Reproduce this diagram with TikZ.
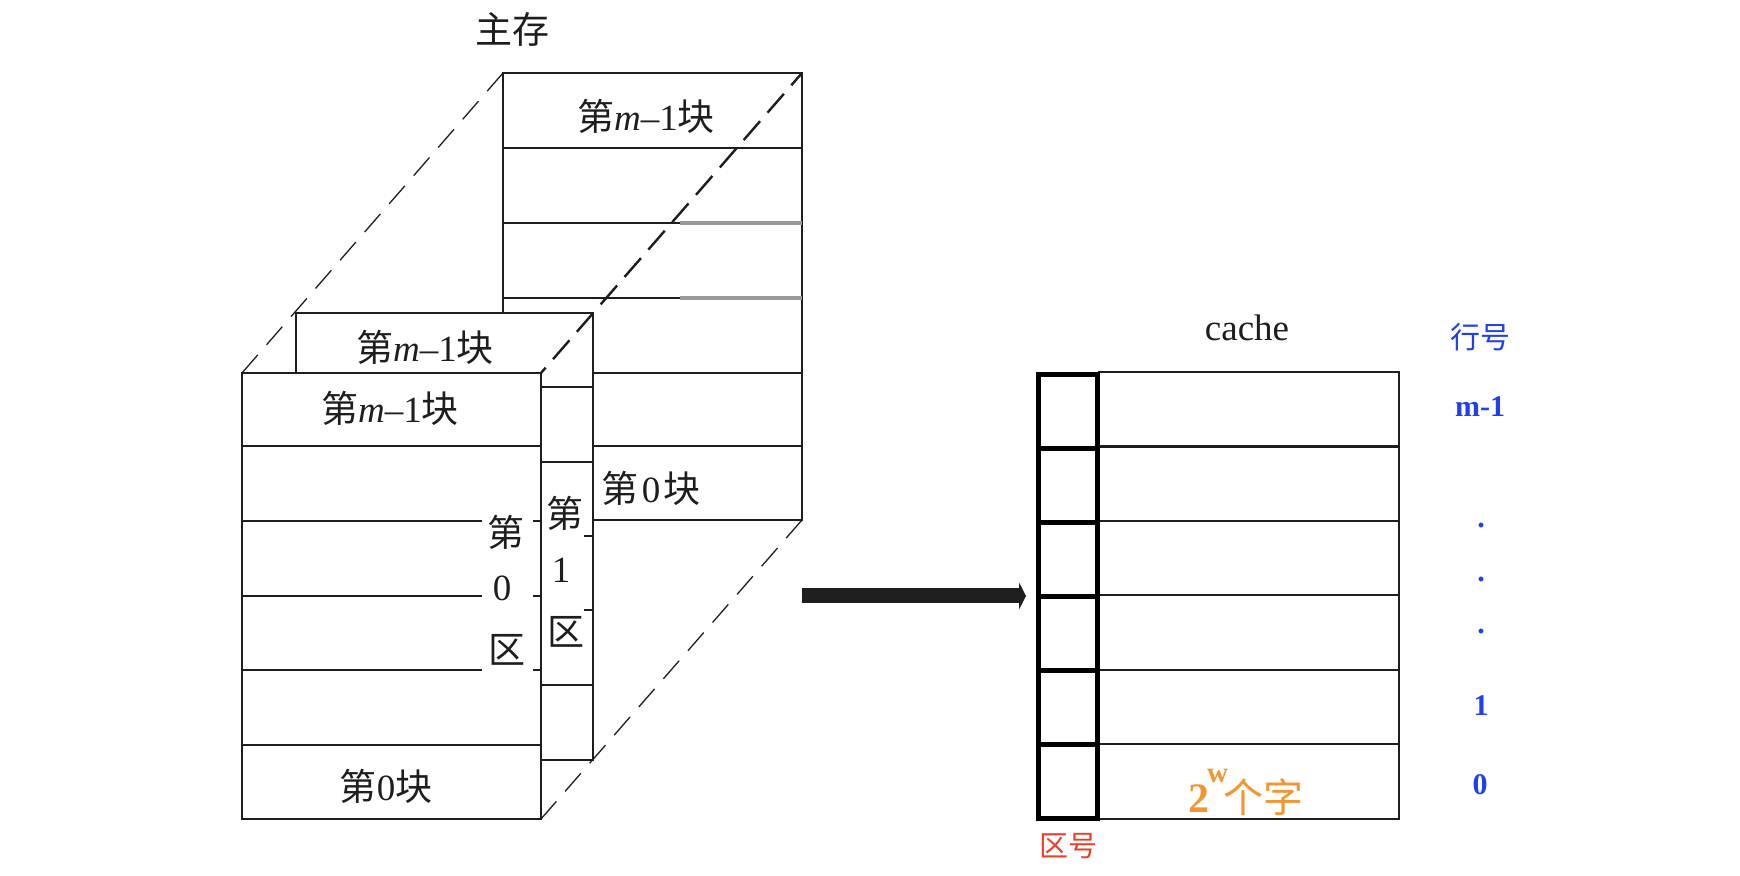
\documentclass[tikz,border=0pt]{standalone}
\usepackage{fontspec}
\setmainfont{Liberation Serif}
\newfontfamily\cjk{Noto Sans CJK SC}
\usepackage{xcolor}
\usetikzlibrary{arrows.meta}
\definecolor{ink}{RGB}{30,30,30}
\definecolor{fadeline}{RGB}{153,153,153}
\definecolor{rownum}{RGB}{32,64,240}
\definecolor{tagred}{RGB}{232,64,42}
\definecolor{wordorange}{RGB}{243,149,48}
\newcommand{\zh}[1]{{\cjk #1}}
\tikzset{
    rowline/.style={draw=ink, line width=1.2pt},
    stackbox/.style={draw=ink, line width=1.2pt, fill=white},
    fadeseg/.style={draw=fadeline, line width=1.7pt},
    thindash/.style={draw=ink, line width=0.65pt, dash pattern=on 12pt off 6.68pt},
    thickdash/.style={draw=ink, line width=1.2pt, dash pattern=on 12.5pt off 5.65pt, dash phase=4.35pt},
    blocktext/.style={text=ink, font=\fontsize{18.5}{20}\selectfont, inner sep=0pt},
    linecell/.style={rectangle, draw=ink, line width=1.1pt, minimum width=150pt, minimum height=37.3pt, outer sep=0pt, inner sep=0pt},
    tagcell/.style={rectangle, draw=black, line width=2.5pt, minimum width=29.75pt, minimum height=37pt, outer sep=0pt, inner sep=0pt},
    rowlabel/.style={text=rownum, font=\fontsize{15}{16}\selectfont\bfseries, inner sep=0pt},
    bigarrow/.style={draw=ink, line width=7.5pt, -{Triangle[width=13.5pt,length=3.5pt]}}
}
\begin{document}
\begin{tikzpicture}[x=0.5pt, y=-0.5pt]
    \useasboundingbox[fill=white] (0,0) rectangle (1740,876);

    % Back stack
    \draw[rowline] (503,73) rectangle (802,520);
    \foreach \y in {148,223,298,373,446}
        \draw[rowline] (503,\y) -- (802,\y);
    \draw[fadeseg] (680,223) -- (802,223);
    \draw[fadeseg] (680,298) -- (802,298);
    \node[blocktext] (backtop) at (646,116) {\zh{第}\textit{m}–1\zh{块}};
    \node[blocktext] (backzero) at (651,488) {\zh{第}\kern1.5pt 0\kern1.5pt\zh{块}};

    % Middle stack
    \draw[stackbox] (296,313) rectangle (593,760);
    \foreach \y in {387,462,685}
        \draw[rowline] (296,\y) -- (593,\y);
    \foreach \y in {536,610}
        \draw[rowline] (584,\y) -- (593,\y);
    \node[blocktext] (midtop) at (425,347) {\zh{第}\textit{m}–1\zh{块}};
    \node[blocktext] (midzone) at (565,513) {\zh{第}};
    \node[blocktext] (midnum) at (561,570) {1};
    \node[blocktext] (midqu) at (566,632) {\zh{区}};

    % Front stack
    \draw[stackbox] (242,373) rectangle (541,819);
    \foreach \y in {446,745}
        \draw[rowline] (242,\y) -- (541,\y);
    \foreach \y in {521,596,670} {
        \draw[rowline] (242,\y) -- (482,\y);
        \draw[rowline] (533,\y) -- (541,\y);
    }
    \node[blocktext] (fronttop) at (390,408) {\zh{第}\textit{m}–1\zh{块}};
    \node[blocktext] (frontzero) at (386,786) {\zh{第}0\zh{块}};
    \node[blocktext] (frontzone) at (506,532) {\zh{第}};
    \node[blocktext] (frontnum) at (502,588) {0};
    \node[blocktext] (frontqu) at (507,650) {\zh{区}};
    \node[blocktext] (mainmem) at (512,29) {\zh{主存}};

    % Dashed edges
    \draw[thindash] (503,73) -- (242,373);
    \draw[thickdash] (802,73) -- (541,373);
    \draw[thindash] (802,520) -- (541,819);

    % Cache
    \foreach \i/\y in {5/409.5,4/483.5,3/558,2/632.5,1/707,0/781.5} {
        \node[linecell] (line\i) at (1249,\y) {};
    }
    \foreach \i/\y in {5/411.5,4/485.5,3/559.5,2/633.5,1/707.5,0/781.5} {
        \node[tagcell] (tag\i) at (1067.75,\y) {};
    }
    \node[blocktext] (cachename) at (1247,328) {cache};
    \node[text=wordorange, font=\fontsize{20}{22}\selectfont, inner sep=0pt] (words) at (1246,792)
        {\textbf{\fontsize{21}{22}\selectfont 2\kern-1pt\raisebox{15pt}{\fontsize{14.5}{16}\selectfont w}\kern-2pt}\zh{个字}};
    \node[text=tagred, font=\fontsize{14.5}{16}\selectfont, inner sep=0pt] (tagname) at (1068,846) {\zh{区号}};

    % Row numbers
    \node[rowlabel] (rowname) at (1480,337) {\mdseries\zh{行号}};
    \node[rowlabel] (rowtop) at (1480,407) {m-1};
    \node[rowlabel] (dotone) at (1481,525) {.};
    \node[rowlabel] (dottwo) at (1481,579) {.};
    \node[rowlabel] (dotthree) at (1481,631) {.};
    \node[rowlabel] (rowone) at (1481,706) {1};
    \node[rowlabel] (rowzero) at (1480,785) {0};

    % Mapping arrow
    \coordinate (memout) at (802,596);
    \coordinate (cachein) at (1026,596);
    \draw[bigarrow] (memout) -- (cachein);
\end{tikzpicture}
\end{document}
